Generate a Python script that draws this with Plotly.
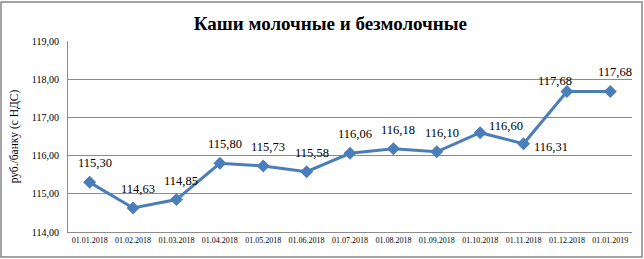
import plotly.graph_objects as go

dates = ["01.01.2018", "01.02.2018", "01.03.2018", "01.04.2018", "01.05.2018", "01.06.2018",
         "01.07.2018", "01.08.2018", "01.09.2018", "01.10.2018", "01.11.2018", "01.12.2018", "01.01.2019"]
prices = [115.30, 114.63, 114.85, 115.80, 115.73, 115.58, 116.06, 116.18, 116.10, 116.60, 116.31, 117.68, 117.68]
label_side = ["above", "above", "above", "above", "above", "above", "above", "above", "above",
              "right", "rightlow", "aboveleft", "above"]
y_ticks = [114, 115, 116, 117, 118, 119]

title = "Каши молочные и безмолочные"
y_title = "руб./банку (с НДС)"

color = "#4A7EBB"
grid = "#8C8C8C"
serif = "Liberation Serif"

fig = go.Figure()
fig.add_trace(go.Scatter(
    x=dates, y=prices, mode="lines+markers",
    line=dict(color=color, width=3),
    marker=dict(symbol="diamond", size=10, color=color),
    hoverinfo="skip", showlegend=False,
))

shifts = {"above": (5, 19), "right": (26, 7), "rightlow": (27, -3), "aboveleft": (-12, 10)}
for d, v, s in zip(dates, prices, label_side):
    dx, dy = shifts[s]
    fig.add_annotation(x=d, y=v, text=f"{v:.2f}".replace(".", ","), showarrow=False,
                       xshift=dx, yshift=dy, font=dict(family=serif, size=12.5, color="#000000"))

fig.update_layout(
    width=644, height=259,
    margin=dict(l=68, r=12, t=41, b=27),
    paper_bgcolor="white", plot_bgcolor="white",
    font=dict(family=serif),
    title=dict(text=f"<b>{title}</b>", x=0.513, xanchor="center", y=0.908, yanchor="middle",
               font=dict(family=serif, size=19, color="#000000")),
    xaxis=dict(type="category", range=[-0.5, len(dates) - 0.5], showgrid=False, showline=True,
               linecolor=grid, linewidth=1,
               ticks="", tickfont=dict(family=serif, size=8, color="#000000"), tickangle=0,
               zeroline=False, fixedrange=True),
    yaxis=dict(range=[114, 119], tickvals=y_ticks,
               ticktext=[f"{t:.2f}".replace(".", ",") for t in y_ticks],
               showgrid=True, gridcolor=grid, gridwidth=1, showline=True, linecolor=grid,
               ticks="", ticklabelstandoff=6, tickfont=dict(family=serif, size=10, color="#000000"),
               title=dict(text=y_title, font=dict(family=serif, size=11.5, color="#000000"), standoff=10),
               zeroline=False),
)
fig.add_shape(type="rect", xref="paper", yref="paper",
              x0=-67 / 564, x1=1 + 10 / 564, y0=-25 / 191, y1=1 + 39 / 191,
              line=dict(color="#868686", width=1.5))

fig.write_html("out.html")
